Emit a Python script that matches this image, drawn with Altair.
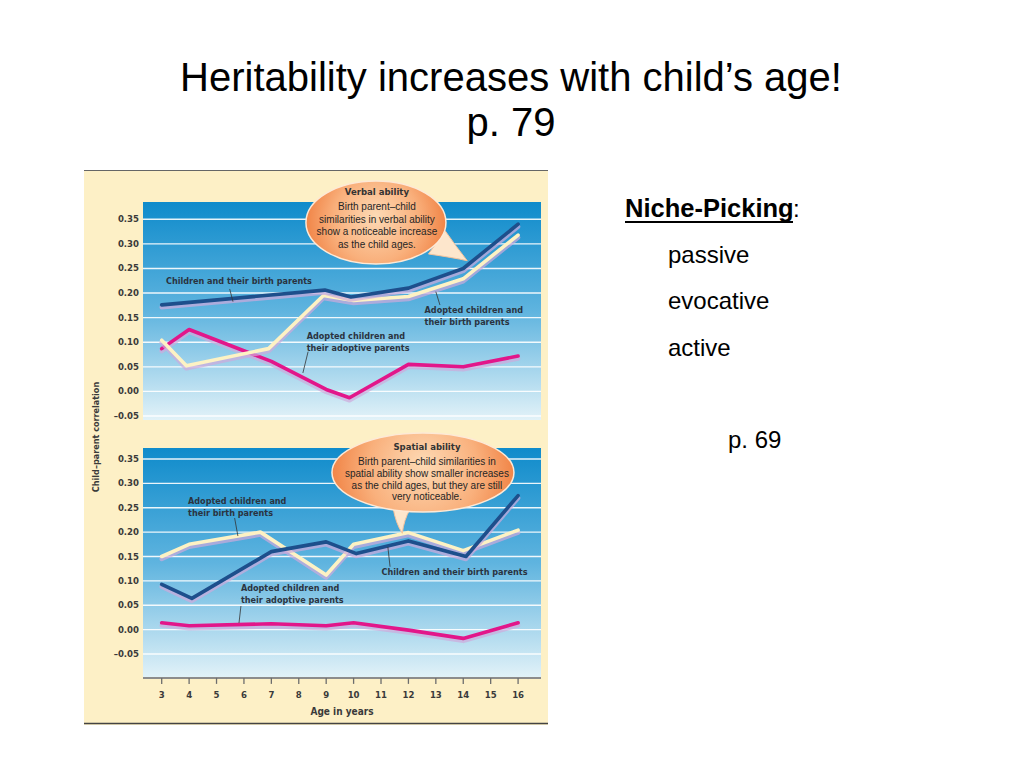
import altair as alt
import pandas as pd

# ---------------- slide text ----------------
TITLE_LINES = ["Heritability increases with child’s age!", "p. 79"]
NICHE_HEAD = "Niche-Picking"
NICHE_ITEMS = ["passive", "evocative", "active"]
NICHE_PAGE = "p. 69"
Y_TITLE = "Child–parent correlation"
X_TITLE = "Age in years"

# ---------------- axes ----------------
AGE_TICKS = list(range(3, 17))
R_TICKS = [-0.05, 0.0, 0.05, 0.10, 0.15, 0.20, 0.25, 0.30, 0.35]
R_TICK_LABELS = ["–0.05", "0.00", "0.05", "0.10", "0.15", "0.20", "0.25", "0.30", "0.35"]

# ---------------- Verbal ability (top panel) ----------------
verbal_birth_age = [3, 8.95, 9.9, 12, 14, 16]
verbal_birth_r = [0.176, 0.206, 0.192, 0.210, 0.250, 0.340]
verbal_adbirth_age = [3, 3.9, 6.9, 8.9, 10, 12, 14, 16]
verbal_adbirth_r = [0.104, 0.052, 0.087, 0.195, 0.185, 0.193, 0.229, 0.318]
verbal_adoptive_age = [3, 4, 7, 9, 9.85, 12, 14, 16]
verbal_adoptive_r = [0.087, 0.126, 0.061, 0.004, -0.013, 0.055, 0.050, 0.072]

# ---------------- Spatial ability (bottom panel) ----------------
spatial_birth_age = [3, 4.1, 7, 9, 10.1, 12, 14.1, 16]
spatial_birth_r = [0.093, 0.064, 0.160, 0.180, 0.156, 0.182, 0.150, 0.275]
spatial_adbirth_age = [3, 4, 6.6, 9, 10, 12, 14, 16]
spatial_adbirth_r = [0.150, 0.175, 0.200, 0.112, 0.175, 0.199, 0.162, 0.204]
spatial_adoptive_age = [3, 4, 7, 9, 10, 12, 14, 16]
spatial_adoptive_r = [0.014, 0.008, 0.012, 0.008, 0.014, -0.001, -0.018, 0.014]

# ---------------- annotation texts ----------------
verbal_callout_title = "Verbal ability"
verbal_callout_body = "Birth parent–child\nsimilarities in verbal ability\nshow a noticeable increase\nas the child ages."
spatial_callout_title = "Spatial ability"
spatial_callout_body = "Birth parent–child similarities in\nspatial ability show smaller increases\nas the child ages, but they are still\nvery noticeable."

top_labels = ["Children and their birth parents",
              "Adopted children and\ntheir birth parents",
              "Adopted children and\ntheir adoptive parents"]
top_label_age = [3.157, 12.59, 8.29]
top_label_r = [0.2245, 0.1656, 0.1133]
top_leader = [(5.48, 0.2083, 5.60, 0.1825), (13.00, 0.2028, 13.15, 0.1757), (8.34, 0.0808, 8.15, 0.0375)]

bot_labels = ["Adopted children and\ntheir birth parents",
              "Children and their birth parents",
              "Adopted children and\ntheir adoptive parents"]
bot_label_age = [3.96, 11.02, 5.89]
bot_label_r = [0.2638, 0.1188, 0.0854]
bot_leader = [(5.66, 0.229, 5.78, 0.192), (11.25, 0.1695, 11.33, 0.129), (5.89, 0.0485, 5.82, 0.0136)]

# ---------------- styling ----------------
NAVY = "#1d4f8c"
CREAM = "#fdf2c4"
MAGENTA = "#e2168a"
SHADOW = "#cfa9dc"
TXT = "#2a3340"
AXC = "#3a3a3a"
FONT_COND = "'Liberation Sans Narrow', 'Arial Narrow', 'DejaVu Sans Condensed', 'Liberation Sans', sans-serif"
FONT_SANS = "'Liberation Sans', Arial, Helvetica, sans-serif"

W, H = 1008, 752
X_DOMAIN = [2.318, 16.836]
X_RANGE = [135, 533]
R_DOMAIN = [-0.05, 0.35]
TOP_RANGE = [408, 211.3]
BOT_RANGE = [646, 451]

BLUE_GRAD = {"gradient": "linear", "x1": 0, "y1": 0, "x2": 0, "y2": 1,
             "stops": [{"offset": 0, "color": "#0f8bcb"},
                       {"offset": 0.5, "color": "#5fb4df"},
                       {"offset": 1, "color": "#e2f2f8"}]}
ORANGE_GRAD = {"gradient": "radial", "x1": 0.5, "y1": 0.45, "r1": 0.0,
               "x2": 0.5, "y2": 0.5, "r2": 0.55,
               "stops": [{"offset": 0, "color": "#fddab5"},
                         {"offset": 0.55, "color": "#f9b07c"},
                         {"offset": 1, "color": "#ef7a3a"}]}

ONE = alt.InlineData(values=[{}])


def xscale():
    return alt.Scale(domain=X_DOMAIN, range=X_RANGE, nice=False, zero=False)


def yscale(rng):
    return alt.Scale(domain=R_DOMAIN, range=rng, nice=False, zero=False)


def xf(field):
    return alt.X(field, type="quantitative", scale=xscale(), axis=None)


def xd(v):
    return alt.XDatum(datum=v, type="quantitative", scale=xscale(), axis=None)


def yf(field, rng):
    return alt.Y(field, type="quantitative", scale=yscale(rng), axis=None)


def yd(v, rng):
    return alt.YDatum(datum=v, type="quantitative", scale=yscale(rng), axis=None)


def panel(rng, bg_top, bg_bot, series, labels, label_age, label_r, leaders,
          c_age, c_r, c_size, c_aspect, tail_path, c_title, c_title_r, c_body, c_body_r,
          c_text_age, c_line_h, with_x_axis):
    layers = []
    # background gradient
    layers.append(alt.Chart(ONE).mark_rect(fill=BLUE_GRAD).encode(
        x=xd(X_DOMAIN[0]), x2=alt.X2Datum(datum=X_DOMAIN[1]),
        y=yd(bg_top, rng), y2=alt.Y2Datum(datum=bg_bot)))
    ticks = pd.DataFrame({"r": R_TICKS, "lab": R_TICK_LABELS})
    # grid lines
    layers.append(alt.Chart(ticks).mark_rule(
        color="white", strokeWidth=1.4, opacity=0.9).encode(
        x=xd(X_DOMAIN[0]), x2=alt.X2Datum(datum=X_DOMAIN[1]), y=yf("r", rng)))
    # y tick labels
    layers.append(alt.Chart(ticks).mark_text(
        align="right", baseline="middle", dx=-4, font=FONT_COND, fontSize=9.5,
        fontWeight="bold", color=AXC).encode(
        x=xd(X_DOMAIN[0]), y=yf("r", rng), text="lab:N"))
    # x axis
    if with_x_axis:
        ages = pd.DataFrame({"age": AGE_TICKS, "lab": [str(a) for a in AGE_TICKS]})
        layers.append(alt.Chart(ONE).mark_rule(color="#8c8c8c", strokeWidth=2).encode(
            x=xd(X_DOMAIN[0]), x2=alt.X2Datum(datum=X_DOMAIN[1]), y=yd(bg_bot, rng)))
        layers.append(alt.Chart(ages).mark_rule(
            color="#6d6d6d", strokeWidth=1.3, y2Offset=6).encode(
            x=xf("age"), y=yd(bg_bot, rng), y2=alt.Y2Datum(datum=bg_bot)))
        layers.append(alt.Chart(ages).mark_text(
            align="center", baseline="middle", dy=17, font=FONT_COND, fontSize=9.5,
            fontWeight="bold", color=AXC).encode(
            x=xf("age"), y=yd(bg_bot, rng), text="lab:N"))
        layers.append(alt.Chart(ONE).mark_text(
            text=X_TITLE, align="center", baseline="middle", dy=34, font=FONT_COND,
            fontSize=10, fontWeight="bold", color=AXC).encode(
            x=xd(sum(X_DOMAIN) / 2), y=yd(bg_bot, rng)))
    # lines
    for ages_, vals, color in series:
        df = pd.DataFrame({"age": ages_, "r": vals})
        layers.append(alt.Chart(df).mark_line(
            color=SHADOW, strokeWidth=4.5, opacity=0.7, yOffset=2.5,
            strokeCap="round", strokeJoin="round").encode(x=xf("age"), y=yf("r", rng)))
        layers.append(alt.Chart(df).mark_line(
            color=color, strokeWidth=3.6, strokeCap="round", strokeJoin="round").encode(
            x=xf("age"), y=yf("r", rng)))
    # leader lines
    for (a1, r1, a2, r2) in leaders:
        layers.append(alt.Chart(ONE).mark_rule(color="#333333", strokeWidth=0.8).encode(
            x=xd(a1), y=yd(r1, rng), x2=alt.X2Datum(datum=a2), y2=alt.Y2Datum(datum=r2)))
    # series labels (y = centre of first line)
    for t, a, r in zip(labels, label_age, label_r):
        layers.append(alt.Chart(ONE).mark_text(
            text=t, lineBreak="\n", lineHeight=12, align="left", baseline="middle",
            font=FONT_COND, fontSize=9, fontWeight="bold", color=TXT).encode(
            x=xd(a), y=yd(r, rng)))
    # callout tail + ellipse
    ellipse = "M -1 0 A 1 {a} 0 1 1 1 0 A 1 {a} 0 1 1 -1 0 Z".format(a=c_aspect)
    layers.append(alt.Chart(ONE).mark_point(
        shape=tail_path, size=c_size, filled=True, fill="#fde6cc", stroke="#f4c29c",
        strokeWidth=1, opacity=1).encode(x=xd(c_age), y=yd(c_r, rng)))
    layers.append(alt.Chart(ONE).mark_point(
        shape=ellipse, size=c_size, filled=True, fill=ORANGE_GRAD, stroke="#fde9d6",
        strokeWidth=1.5, opacity=1).encode(x=xd(c_age), y=yd(c_r, rng)))
    layers.append(alt.Chart(ONE).mark_text(
        text=c_title, align="center", baseline="middle", font=FONT_COND, fontSize=9.5,
        fontWeight="bold", color="#333333").encode(x=xd(c_text_age), y=yd(c_title_r, rng)))
    layers.append(alt.Chart(ONE).mark_text(
        text=c_body, lineBreak="\n", lineHeight=c_line_h, align="center", baseline="middle",
        font=FONT_SANS, fontSize=10, color="#262626").encode(
        x=xd(c_text_age), y=yd(c_body_r, rng)))
    return alt.layer(*layers)


top = panel(
    TOP_RANGE, 0.385, -0.058,
    [(verbal_adoptive_age, verbal_adoptive_r, MAGENTA),
     (verbal_adbirth_age, verbal_adbirth_r, CREAM),
     (verbal_birth_age, verbal_birth_r, NAVY)],
    top_labels, top_label_age, top_label_r, top_leader,
    10.815, 0.3435, 19600, 0.593,
    "M 0.75 0.45 Q 1.1 0.5 1.304 0.546 Q 1.15 0.35 0.99 0.12 Z",
    verbal_callout_title, 0.4045, verbal_callout_body, 0.375, 10.85, 12.6, False)

bottom = panel(
    BOT_RANGE, 0.3726, -0.099,
    [(spatial_adoptive_age, spatial_adoptive_r, MAGENTA),
     (spatial_adbirth_age, spatial_adbirth_r, CREAM),
     (spatial_birth_age, spatial_birth_r, NAVY)],
    bot_labels, bot_label_age, bot_label_r, bot_leader,
    12.53, 0.3223, 33124, 0.434,
    "M -0.33 0.38 Q -0.30 0.56 -0.227 0.668 Q -0.21 0.52 -0.14 0.40 Z",
    spatial_callout_title, 0.3752, spatial_callout_body, 0.3432, 12.675, 11.6, True)

# ---------------- slide decorations ----------------
cream = alt.Chart(ONE).mark_rect(fill="#fdf0c6").encode(
    x=alt.value(76), x2=alt.value(540), y=alt.value(162), y2=alt.value(717))
border_top = alt.Chart(ONE).mark_rule(color="#666666", strokeWidth=1.2).encode(
    x=alt.value(76), x2=alt.value(540), y=alt.value(162.5))
border_bot = alt.Chart(ONE).mark_rule(color="#444444", strokeWidth=1.4).encode(
    x=alt.value(76), x2=alt.value(540), y=alt.value(715.5))

ytitle = alt.Chart(ONE).mark_text(
    text=Y_TITLE, angle=270, align="center", baseline="middle", font=FONT_COND,
    fontSize=9, fontWeight="bold", color=AXC).encode(x=alt.value(88), y=alt.value(429))

title1 = alt.Chart(ONE).mark_text(
    text=TITLE_LINES[0], align="center", baseline="alphabetic", font=FONT_SANS,
    fontSize=40, color="black").encode(x=alt.value(503), y=alt.value(83))
title2 = alt.Chart(ONE).mark_text(
    text=TITLE_LINES[1], align="center", baseline="alphabetic", font=FONT_SANS,
    fontSize=40, color="black").encode(x=alt.value(503), y=alt.value(128))

niche = alt.Chart(ONE).mark_text(
    text=NICHE_HEAD, align="left", baseline="alphabetic", font=FONT_SANS, fontSize=25.5,
    fontWeight="bold", color="black").encode(x=alt.value(617), y=alt.value(209))
colon = alt.Chart(ONE).mark_text(
    text=":", align="left", baseline="alphabetic", font=FONT_SANS, fontSize=24,
    color="black").encode(x=alt.value(785), y=alt.value(209))
underline = alt.Chart(ONE).mark_rule(color="black", strokeWidth=2).encode(
    x=alt.value(617), x2=alt.value(785), y=alt.value(214))
items = [alt.Chart(ONE).mark_text(
    text=t, align="left", baseline="alphabetic", font=FONT_SANS, fontSize=24,
    color="black").encode(x=alt.value(660), y=alt.value(yy))
    for t, yy in zip(NICHE_ITEMS, [255, 301, 348])]
page69 = alt.Chart(ONE).mark_text(
    text=NICHE_PAGE, align="left", baseline="alphabetic", font=FONT_SANS, fontSize=24,
    color="black").encode(x=alt.value(720), y=alt.value(440))

chart = alt.layer(
    cream, border_top, border_bot, top, bottom, ytitle,
    title1, title2, niche, colon, underline, *items, page69
).resolve_scale(y="independent").properties(
    width=W, height=H, padding=0, autosize=alt.AutoSizeParams(type="none")
).configure_view(stroke=None)

chart.save("out.html", embed_options={"renderer": "svg", "actions": False})
